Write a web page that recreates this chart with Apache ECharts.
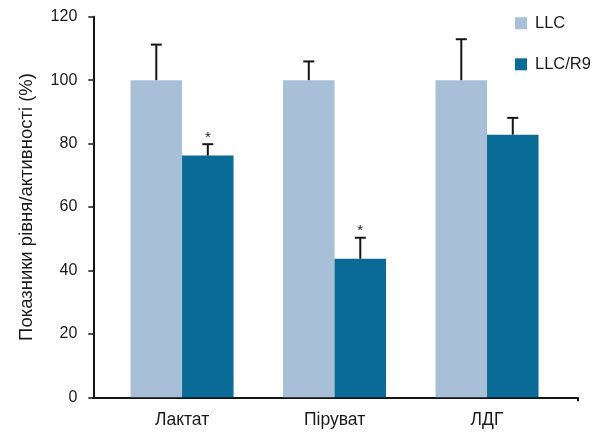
<!DOCTYPE html>
<html>
<head>
<meta charset="utf-8">
<script src="https://cdn.jsdelivr.net/npm/echarts@6/dist/echarts.min.js"></script>
<style>
  html, body { margin: 0; padding: 0; background: #fff; }
  #chart { width: 605px; height: 434px; }
</style>
</head>
<body>
<div id="chart"></div>
<script>
// Groups along the x axis (placed at positions 1, 2, 3)
const categories = ['Лактат', 'Піруват', 'ЛДГ'];
const seriesNames = ['LLC', 'LLC/R9'];

// Mean level / activity, % of LLC control
const llcValues = [100, 100, 100];
const llcR9Values = [76.2, 43.7, 82.8];

// Upper error (SD) for each bar
const llcErrors = [11.2, 5.9, 12.9];
const llcR9Errors = [3.6, 6.6, 5.3];

// Significance marks (*) over LLC/R9 bars
const llcR9Significant = [true, true, false];

// Y axis ticks
const yTicks = [0, 20, 40, 60, 80, 100, 120];

const FONT = "'Liberation Sans', Arial, sans-serif";
const TEXT_COLOR = '#1a1a1a';
const AXIS_COLOR = '#151515';
const COLORS = ['#a7bfd7', '#0a6c96'];
const BAR_WIDTH = 51.5;
const X_MIN = 0.418;
const X_MAX = 3.592;

const positions = categories.map((_, i) => i + 1);

function barData(values) {
  return values.map((v, i) => [positions[i], v]);
}

function errData(values, errors, marks) {
  return values.map((v, i) => [positions[i], v, v + errors[i], marks ? (marks[i] ? 1 : 0) : 0]);
}

// Whisker (upward only) with a horizontal cap, shifted to sit on its bar
function errorRenderer(shift) {
  return function (params, api) {
    const x = api.value(0);
    const base = api.coord([x, api.value(1)]);
    const top = api.coord([x, api.value(2)]);
    const cx = base[0] + shift;
    const capHalf = 5.5;
    const style = { stroke: AXIS_COLOR, lineWidth: 2 };
    const children = [
      { type: 'line', shape: { x1: cx, y1: base[1], x2: cx, y2: top[1] }, style: style },
      { type: 'line', shape: { x1: cx - capHalf, y1: top[1], x2: cx + capHalf, y2: top[1] }, style: style }
    ];
    if (api.value(3) === 1) {
      children.push({
        type: 'text',
        style: {
          x: cx, y: top[1] + 1,
          text: '*',
          font: "15px " + FONT,
          fill: TEXT_COLOR,
          textAlign: 'center',
          textVerticalAlign: 'bottom'
        }
      });
    }
    return { type: 'group', children: children };
  };
}

const chart = echarts.init(document.getElementById('chart'), null, { renderer: 'canvas' });

chart.setOption({
  animation: false,
  backgroundColor: '#ffffff',
  textStyle: { fontFamily: FONT, color: TEXT_COLOR },
  grid: { left: 93.3, right: 27.7, top: 16.7, bottom: 36.7, containLabel: false },
  legend: {
    orient: 'vertical',
    left: 515,
    top: 14.3,
    padding: 0,
    icon: 'rect',
    itemWidth: 12,
    itemHeight: 12,
    itemGap: 23,
    data: seriesNames,
    textStyle: { fontFamily: FONT, fontSize: 16.5, lineHeight: 18, color: TEXT_COLOR, padding: [0, 0, 0, 3] }
  },
  xAxis: {
    type: 'value',
    min: X_MIN,
    max: X_MAX,
    splitLine: { show: false },
    axisLine: { show: true, onZero: false, lineStyle: { color: AXIS_COLOR, width: 2 } },
    axisTick: { show: true, customValues: [X_MAX], length: 4, lineStyle: { color: AXIS_COLOR, width: 2 } },
    axisLabel: {
      customValues: positions,
      margin: 14,
      fontSize: 17.5,
      fontFamily: FONT,
      color: TEXT_COLOR,
      formatter: function (v) { return categories[Math.round(v) - 1] || ''; }
    }
  },
  yAxis: {
    type: 'value',
    min: yTicks[0],
    max: yTicks[yTicks.length - 1],
    interval: yTicks[1] - yTicks[0],
    name: 'Показники рівня/активності (%)',
    nameLocation: 'middle',
    nameGap: 57,
    nameTextStyle: { fontFamily: FONT, fontSize: 18.5, color: TEXT_COLOR },
    splitLine: { show: false },
    axisLine: { show: true, lineStyle: { color: AXIS_COLOR, width: 2 } },
    axisTick: { show: true, length: 5, lineStyle: { color: AXIS_COLOR, width: 1.5 } },
    axisLabel: { margin: 16, fontSize: 16, fontFamily: FONT, color: TEXT_COLOR }
  },
  series: [
    {
      name: seriesNames[0],
      type: 'bar',
      data: barData(llcValues),
      barWidth: BAR_WIDTH,
      barGap: '0%',
      itemStyle: { color: COLORS[0] },
      z: 2
    },
    {
      name: seriesNames[1],
      type: 'bar',
      data: barData(llcR9Values),
      barWidth: BAR_WIDTH,
      barGap: '0%',
      itemStyle: { color: COLORS[1] },
      z: 2
    },
    {
      type: 'custom',
      name: 'err-llc',
      data: errData(llcValues, llcErrors, null),
      renderItem: errorRenderer(-BAR_WIDTH / 2),
      z: 3,
      silent: true
    },
    {
      type: 'custom',
      name: 'err-llc-r9',
      data: errData(llcR9Values, llcR9Errors, llcR9Significant),
      renderItem: errorRenderer(BAR_WIDTH / 2),
      z: 3,
      silent: true
    }
  ]
});
</script>
</body>
</html>
